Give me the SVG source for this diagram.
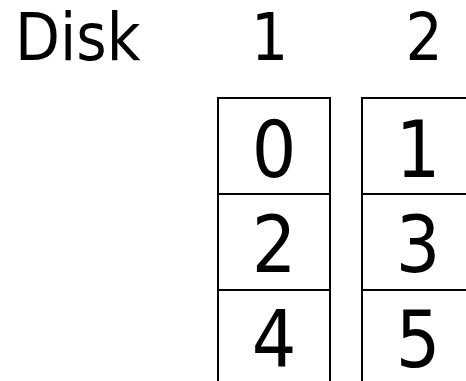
<svg xmlns="http://www.w3.org/2000/svg" width="466" height="381" viewBox="0 0 466 381">
<style>
text{font-family:"DejaVu Sans Condensed","DejaVu Sans",sans-serif;font-stretch:condensed;fill:#000}
.h{font-size:65px}
.c{font-size:78px;text-anchor:middle}
.box{fill:#fff;stroke:#000;stroke-width:2}
</style>
<rect width="466" height="381" fill="#fff"/>
<g id="headers">
<text class="h" x="15" y="60">Disk</text>
<text class="h" x="269.5" y="60" text-anchor="middle">1</text>
<text class="h" x="424" y="60" text-anchor="middle">2</text>
</g>
<g id="disk1">
<g id="b0"><rect class="box" x="218" y="98" width="112" height="96"/><text class="c" x="274" y="177">0</text></g>
<g id="b2"><rect class="box" x="218" y="194" width="112" height="96"/><text class="c" x="274" y="272">2</text></g>
<g id="b4"><rect class="box" x="218" y="290" width="112" height="96"/><text class="c" x="274" y="367">4</text></g>
</g>
<g id="disk2">
<g id="b1"><rect class="box" x="362" y="98" width="112" height="96"/><text class="c" x="418" y="177">1</text></g>
<g id="b3"><rect class="box" x="362" y="194" width="112" height="96"/><text class="c" x="418" y="272">3</text></g>
<g id="b5"><rect class="box" x="362" y="290" width="112" height="96"/><text class="c" x="418" y="367">5</text></g>
</g>
<g id="connectors"></g>
</svg>
